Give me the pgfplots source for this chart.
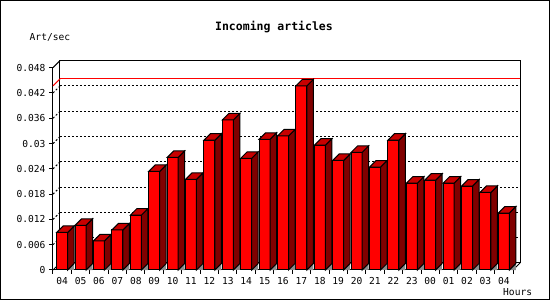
\documentclass[border=0pt]{standalone}
\usepackage{pgfplots}
\pgfplotsset{compat=1.18}
\usepackage{pgfplotstable}
\usepackage{fontspec}
\setmonofont{DejaVu Sans Mono}
\definecolor{barfront}{HTML}{FF0000}
\definecolor{bartop}{HTML}{C80000}
\definecolor{barside}{HTML}{800000}
\definecolor{shadowgray}{HTML}{8C8C8C}

\pgfplotstableread{
x y
0 0.0089
1 0.0106
2 0.0069
3 0.0095
4 0.0130
5 0.0234
6 0.0267
7 0.0215
8 0.0308
9 0.0356
10 0.0265
11 0.0310
12 0.0318
13 0.0437
14 0.0296
15 0.0260
16 0.0279
17 0.0244
18 0.0308
19 0.0206
20 0.0213
21 0.0206
22 0.0199
23 0.0184
24 0.0135
}\arttable

\pgfdeclareplotmark{bar3d}{%
  \pgfmathsetmacro\hpt{\rawyv*4214.58}%
  \pgfsetlinewidth{1pt}%
  \pgfsetstrokecolor{black}%
  \pgfpathmoveto{\pgfpoint{5.5pt}{-\hpt pt}}%
  \pgfpathlineto{\pgfpoint{12pt}{-\hpt pt}}%
  \pgfpathlineto{\pgfpoint{12pt}{-\hpt pt+6.5pt}}%
  \pgfpathclose
  \pgfsetfillcolor{shadowgray}%
  \pgfusepath{fill}%
  \pgfpathmoveto{\pgfpoint{5.5pt}{0pt}}%
  \pgfpathlineto{\pgfpoint{12pt}{6.5pt}}%
  \pgfpathlineto{\pgfpoint{12pt}{6.5pt-\hpt pt}}%
  \pgfpathlineto{\pgfpoint{5.5pt}{-\hpt pt}}%
  \pgfpathclose
  \pgfsetfillcolor{barside}%
  \pgfusepath{fill,stroke}%
  \pgfpathmoveto{\pgfpoint{-5.5pt}{0pt}}%
  \pgfpathlineto{\pgfpoint{5.5pt}{0pt}}%
  \pgfpathlineto{\pgfpoint{12pt}{6.5pt}}%
  \pgfpathlineto{\pgfpoint{1pt}{6.5pt}}%
  \pgfpathclose
  \pgfsetfillcolor{bartop}%
  \pgfusepath{fill,stroke}%
}

\begin{document}
\begin{tikzpicture}
\draw[line width=1pt] (0.5pt,0.5pt) rectangle (549.5pt,299.5pt);

% back plane
\begin{axis}[
  at={(60pt,37pt)}, anchor=south west, scale only axis,
  width=460pt, height=202.3pt,
  xmin=-0.5, xmax=24.5, ymin=0, ymax=0.048,
  xtick=\empty,
  ytick={0.006,0.012,0.018,0.024,0.030,0.036,0.042},
  yticklabels={},
  scaled y ticks=false,
  major tick length=0pt,
  ymajorgrids,
  grid style={black, line width=1pt, dash pattern=on 2pt off 2pt},
  axis line style={line width=1pt, black},
]
\addplot[red, line width=1pt, mark=none] coordinates {(-0.5,0.0437) (24.5,0.0437)};
\end{axis}

% front
\begin{axis}[
  at={(53pt,30pt)}, anchor=south west, scale only axis,
  width=460pt, height=202.3pt,
  xmin=-0.5, xmax=24.5, ymin=0, ymax=0.048,
  axis x line*=bottom, axis y line*=left,
  axis line style={line width=1pt, black, -},
  xtick={-0.5,0.5,1.5,2.5,3.5,4.5,5.5,6.5,7.5,8.5,9.5,10.5,11.5,12.5,13.5,14.5,15.5,16.5,17.5,18.5,19.5,20.5,21.5,22.5,23.5,24.5},
  x tick label as interval,
  xticklabels={04,05,06,07,08,09,10,11,12,13,14,15,16,17,18,19,20,21,22,23,00,01,02,03,04},
  ytick={0,0.006,0.012,0.018,0.024,0.030,0.036,0.042,0.048},
  yticklabels={0,0.006,0.012,0.018,0.024,0.03,0.036,0.042,0.048},
  scaled y ticks=false,
  tick align=outside, major tick length=4pt,
  tick style={black, line width=1pt},
  ticklabel style={font=\ttfamily\fontsize{9.6}{11}\selectfont},
  clip=false,
]
\draw[line width=1pt] (axis cs:-0.5,0.048) -- ++(7pt,7pt);
\draw[line width=1pt] (axis cs:-0.5,0) -- ++(7pt,7pt);
\draw[line width=1pt] (axis cs:24.5,0) -- ++(7pt,7pt);
\draw[red, line width=1pt] (axis cs:-0.5,0.0437) -- ++(7pt,7pt);
\pgfplotsinvokeforeach{0.006,0.012,0.018,0.024,0.030,0.036,0.042}{
  \draw[line width=1pt, dash pattern=on 2pt off 2pt] (axis cs:-0.5,#1) -- ++(7pt,7pt);
}
\addplot[ybar, bar width=11pt, bar shift=0pt, fill=barfront, draw=black, line width=1pt]
  table[x=x, y=y] {\arttable};
\addplot[only marks, mark=bar3d, visualization depends on={rawy \as \rawyv}]
  table[x=x, y=y] {\arttable};
\end{axis}

\node[font=\ttfamily\bfseries\fontsize{11.5}{13}\selectfont] at (274pt,273.3pt) {Incoming articles};
\node[font=\ttfamily\fontsize{9.6}{11}\selectfont, anchor=west, inner sep=0pt] at (29.5pt,263pt) {Art/sec};
\node[font=\ttfamily\fontsize{9.6}{11}\selectfont, anchor=west, inner sep=0pt] at (503pt,7.5pt) {Hours};

\pgfresetboundingbox
\useasboundingbox (0,0) rectangle (550pt,300pt);
\end{tikzpicture}
\end{document}
